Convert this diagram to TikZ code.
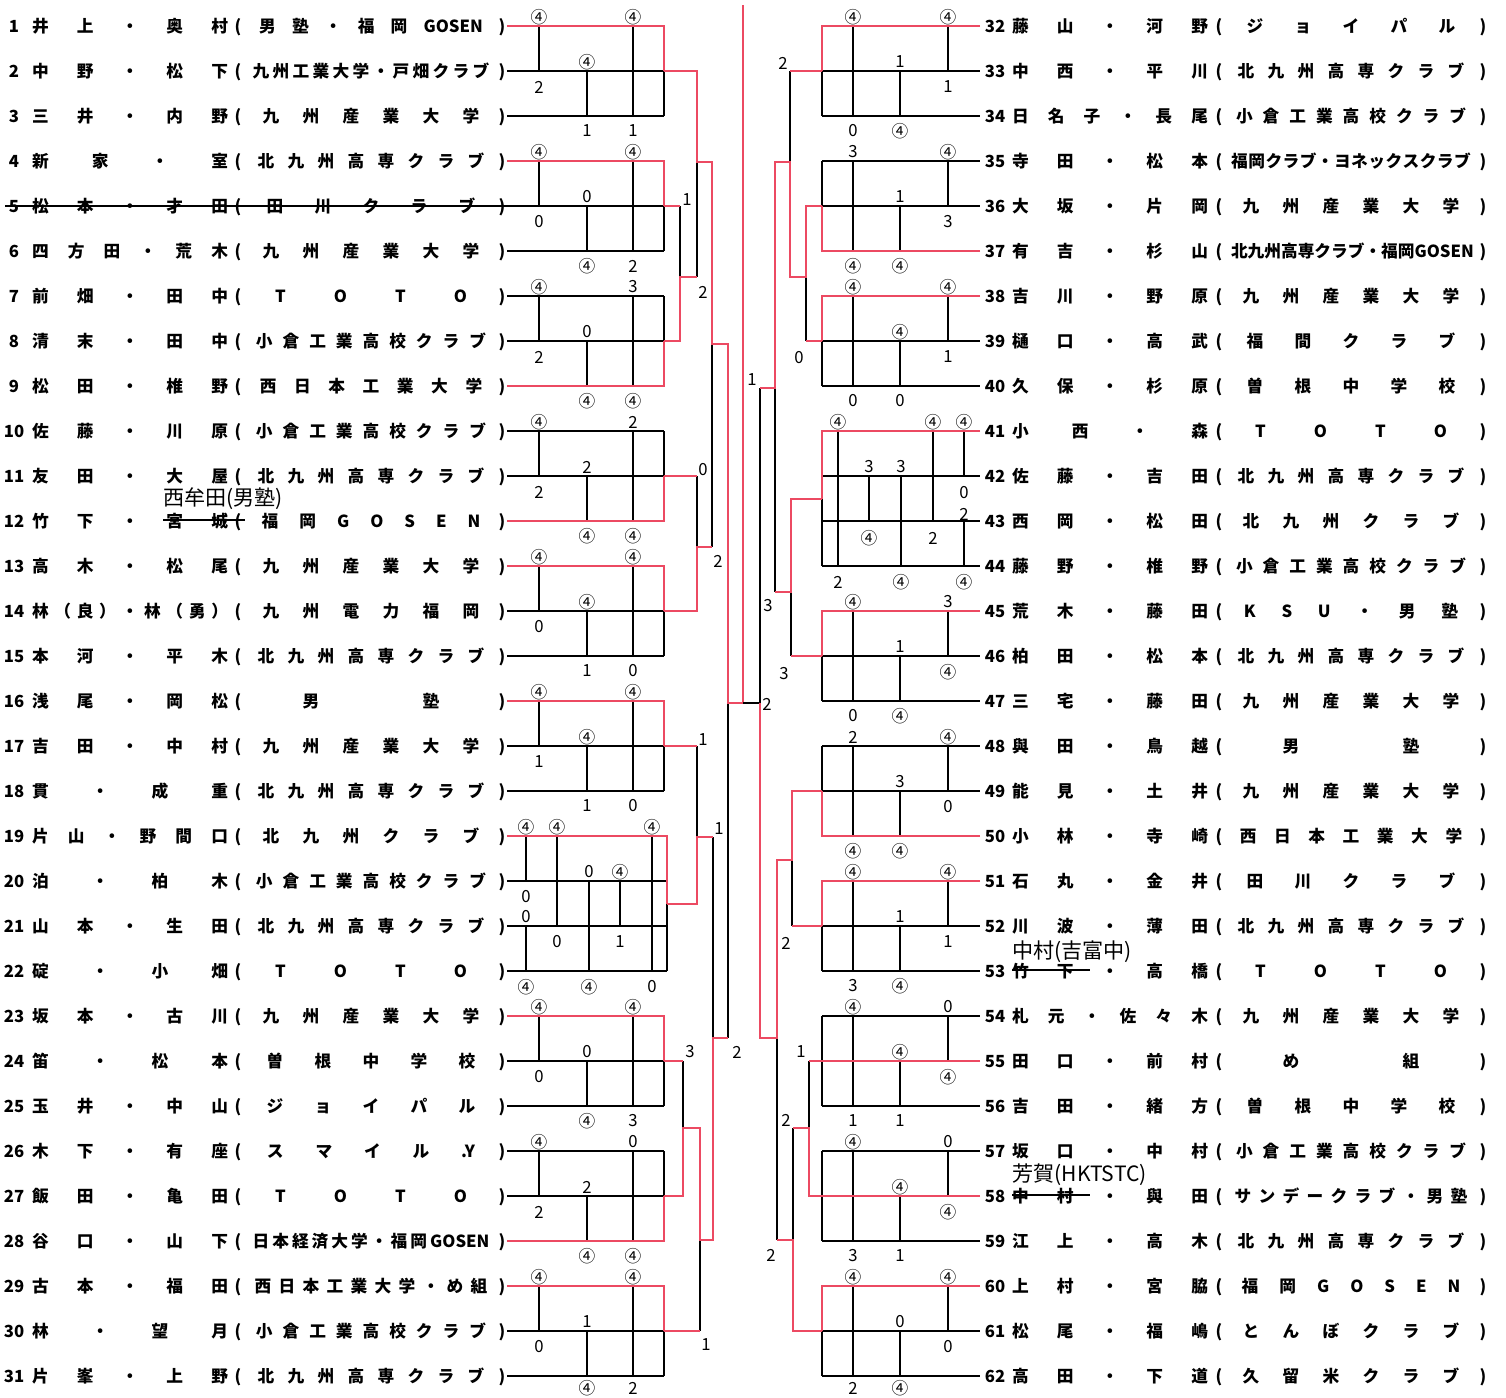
\documentclass[tikz,border=0pt]{standalone}
\usepackage{fontspec}
\usetikzlibrary{positioning}
\newfontfamily\jp{Noto Sans CJK JP}
\definecolor{winred}{HTML}{EC4A62}
\newdimen\px \px=0.02cm

\makeatletter
% justified name, spread affiliation
\newcommand\spreadname[1]{\@tfor\tchar:=#1\do{\tchar\hfil}\unskip}
\newcommand\spreadaff[1]{\@tfor\tchar:=#1\do{\hfil\tchar\hfil}}
\makeatother

% y of a row (left 1-31, right 32-62)
\newcommand\ry[1]{(26+mod(#1-1,31)*45)}

% left entry: number, names, club
\newcommand\lent[3]{%
  \pgfmathsetmacro\yy{\ry{#1}+6}
  \node[txt] (num#1) at (14,\yy) {#1};
  \node[txt] (nm#1) at (130,\yy) {\makebox[196\px][s]{\spreadname{#2}}};
  \node[txt] (op#1) at (238,\yy) {(};
  \node[txt] (af#1) at (371,\yy) {\makebox[240\px][s]{\spreadaff{#3}}};
  \node[txt] (cp#1) at (502,\yy) {)};
}
% right entry
\newcommand\rent[3]{%
  \pgfmathsetmacro\yy{\ry{#1}+6}
  \node[txt] (num#1) at (995,\yy) {#1};
  \node[txt] (nm#1) at (1110,\yy) {\makebox[196\px][s]{\spreadname{#2}}};
  \node[txt] (op#1) at (1219,\yy) {(};
  \node[txt] (af#1) at (1351,\yy) {\makebox[240\px][s]{\spreadaff{#3}}};
  \node[txt] (cp#1) at (1483,\yy) {)};
}

% left league of three: first row, winner row, six scores
\newcommand\lgrp[8]{%
  \pgfmathsetmacro\ya{\ry{#1}}
  \pgfmathsetmacro\yb{\ry{#1+1}}
  \pgfmathsetmacro\yc{\ry{#1+2}}
  \pgfmathsetmacro\yw{\ry{#2}}
  \pgfmathsetmacro\ycs{\yc+(\yc>1300 ? 12 : 15)}
  \draw[rl] (507,\ya) -- (664,\ya) (507,\yb) -- (664,\yb) (507,\yc) -- (664,\yc)
    (539,\ya) -- (539,\yb) (587,\yb) -- (587,\yc) (633,\ya) -- (633,\yc) (664,\ya) -- (664,\yc);
  \draw[win] (507,\yw) -- (664,\yw) -- (664,\yb);
  \node[sc] at (539,\ya-9) {#3};
  \node[sc] at (633,\ya-9) {#4};
  \node[sc] at (587,\yb-9) {#5};
  \node[sc] at (539,\yb+16) {#6};
  \node[sc] at (587,\ycs) {#7};
  \node[sc] at (633,\ycs) {#8};
}
% right league of three
\newcommand\rgrp[8]{%
  \pgfmathsetmacro\ya{\ry{#1}}
  \pgfmathsetmacro\yb{\ry{#1+1}}
  \pgfmathsetmacro\yc{\ry{#1+2}}
  \pgfmathsetmacro\yw{\ry{#2}}
  \pgfmathsetmacro\ycs{\yc+(\yc>1300 ? 12 : 15)}
  \draw[rl] (822,\ya) -- (980,\ya) (822,\yb) -- (980,\yb) (822,\yc) -- (980,\yc)
    (948,\ya) -- (948,\yb) (900,\yb) -- (900,\yc) (853,\ya) -- (853,\yc) (822,\ya) -- (822,\yc);
  \draw[win] (980,\yw) -- (822,\yw) -- (822,\yb);
  \node[sc] at (853,\ya-9) {#3};
  \node[sc] at (948,\ya-9) {#4};
  \node[sc] at (900,\yb-9) {#5};
  \node[sc] at (948,\yb+16) {#6};
  \node[sc] at (853,\ycs) {#7};
  \node[sc] at (900,\ycs) {#8};
}

\begin{document}
\begin{tikzpicture}[x=0.02cm, y=-0.02cm,
  txt/.style={inner sep=0pt, anchor=base, font=\jp\bfseries\fontsize{9.5}{9.5}\selectfont},
  sc/.style={inner sep=0pt, font=\jp\fontsize{9.5}{9.5}\selectfont},
  hand/.style={inner sep=0pt, font=\jp\fontsize{12}{12}\selectfont},
  rl/.style={line width=0.75pt},
  win/.style={line width=1.4pt, winred}
]
\fill[white] (0,0) rectangle (1506,1397);
\useasboundingbox (0,0) rectangle (1506,1397);

% leagues, left
\lgrp{1}{1}{④}{④}{④}{2}{1}{1}
\lgrp{4}{4}{④}{④}{0}{0}{④}{2}
\lgrp{7}{9}{④}{3}{0}{2}{④}{④}
\lgrp{10}{12}{④}{2}{2}{2}{④}{④}
\lgrp{13}{13}{④}{④}{④}{0}{1}{0}
\lgrp{16}{16}{④}{④}{④}{1}{1}{0}
\lgrp{23}{23}{④}{④}{0}{0}{④}{3}
\lgrp{26}{28}{④}{0}{2}{2}{④}{④}
\lgrp{29}{29}{④}{④}{1}{0}{④}{2}

% league of four, rows 19-22
\draw[rl] (507,836) -- (667,836) (507,881) -- (667,881) (507,926) -- (667,926) (507,971) -- (667,971)
  (526,836) -- (526,881) (526,926) -- (526,971) (557,836) -- (557,926) (589,881) -- (589,971)
  (620,881) -- (620,926) (652,836) -- (652,971) (667,836) -- (667,971);
\draw[win] (507,836) -- (667,836) -- (667,904);
\foreach \x/\y/\t in {526/827/④, 557/827/④, 652/827/④, 589/872/0, 620/872/④, 526/897/0,
  526/917/0, 557/942/0, 620/942/1, 526/987/④, 589/987/④, 652/987/0}
  \node[sc] at (\x,\y) {\t};

% leagues, right
\rgrp{32}{32}{④}{④}{1}{1}{0}{④}
\rgrp{35}{37}{3}{④}{1}{3}{④}{④}
\rgrp{38}{38}{④}{④}{④}{1}{0}{0}
\rgrp{45}{45}{④}{3}{1}{④}{0}{④}
\rgrp{48}{50}{2}{④}{3}{0}{④}{④}
\rgrp{51}{51}{④}{④}{1}{1}{3}{④}
\rgrp{54}{55}{④}{0}{④}{④}{1}{1}
\rgrp{57}{58}{④}{0}{④}{④}{3}{1}
\rgrp{60}{60}{④}{④}{0}{0}{2}{④}

% league of four, rows 41-44
\draw[rl] (822,431) -- (980,431) (822,476) -- (980,476) (822,521) -- (980,521) (822,566) -- (980,566)
  (838,431) -- (838,566) (869,476) -- (869,521) (901,476) -- (901,566) (933,431) -- (933,521)
  (964,431) -- (964,476) (964,521) -- (964,566) (822,431) -- (822,566);
\draw[win] (980,431) -- (822,431) -- (822,499);
\foreach \x/\y/\t in {838/422/④, 933/422/④, 964/422/④, 869/467/3, 901/467/3, 964/493/0,
  964/514/2, 869/538/④, 933/538/2, 838/582/2, 901/582/④, 964/582/④}
  \node[sc] at (\x,\y) {\t};

% knockout, left half
\draw[rl] (680,206) -- (680,277) (697,162) -- (697,277) (697,476) -- (697,547) (712,344) -- (712,547)
  (697,746) -- (697,837) (713,837) -- (713,1038) (683,1061) -- (683,1128) (700,1240) -- (700,1331)
  (728,703) -- (728,1038);
\draw[win] (664,206) -- (680,206);
\draw[win] (664,341) -- (680,341) -- (680,277) -- (697,277);
\draw[win] (664,71) -- (697,71) -- (697,162) -- (712,162) -- (712,344) -- (728,344) -- (728,703) -- (743,703) -- (743,5);
\draw[win] (664,476) -- (697,476);
\draw[win] (664,611) -- (697,611) -- (697,547) -- (712,547);
\draw[win] (664,746) -- (697,746);
\draw[win] (667,904) -- (697,904) -- (697,837) -- (713,837);
\draw[win] (664,1061) -- (683,1061);
\draw[win] (664,1196) -- (683,1196) -- (683,1128) -- (700,1128) -- (700,1240) -- (713,1240) -- (713,1038) -- (728,1038);
\draw[win] (664,1331) -- (700,1331);

% knockout, right half
\draw[rl] (790,71) -- (790,162) (806,277) -- (806,341) (791,592) -- (791,656) (775,388) -- (775,592)
  (792,860) -- (792,926) (809,1061) -- (809,1128) (793,1128) -- (793,1240) (777,1038) -- (777,1240)
  (760,388) -- (760,703) (743,703) -- (760,703);
\draw[win] (822,71) -- (790,71);
\draw[win] (822,206) -- (806,206) -- (806,277) -- (790,277) -- (790,162) -- (775,162) -- (775,388) -- (760,388);
\draw[win] (822,341) -- (806,341);
\draw[win] (822,499) -- (791,499) -- (791,592) -- (775,592);
\draw[win] (822,656) -- (791,656);
\draw[win] (822,791) -- (792,791) -- (792,860) -- (777,860) -- (777,1038) -- (760,1038) -- (760,703);
\draw[win] (822,926) -- (792,926);
\draw[win] (822,1061) -- (809,1061);
\draw[win] (822,1196) -- (809,1196) -- (809,1128) -- (793,1128);
\draw[win] (822,1331) -- (793,1331) -- (793,1240) -- (777,1240);

\foreach \x/\y/\t in {687/200/1, 703/292/2, 703/470/0, 718/561/2, 703/740/1, 719/829/1, 690/1052/3,
  737/1052/2, 706/1345/1, 783/63/2, 799/358/0, 752/380/1, 768/606/3, 784/674/3, 767/704/2,
  786/943/2, 801/1052/1, 786/1120/2, 771/1255/2}
  \node[sc] at (\x,\y) {\t};

% entries, left
\lent{1}{井上・奥村}{男塾・福岡{GOSEN}}
\lent{2}{中野・松下}{九州工業大学・戸畑クラブ}
\lent{3}{三井・内野}{九州産業大学}
\lent{4}{新家・室}{北九州高専クラブ}
\lent{5}{松本・才田}{田川クラブ}
\lent{6}{四方田・荒木}{九州産業大学}
\lent{7}{前畑・田中}{TOTO}
\lent{8}{清末・田中}{小倉工業高校クラブ}
\lent{9}{松田・椎野}{西日本工業大学}
\lent{10}{佐藤・川原}{小倉工業高校クラブ}
\lent{11}{友田・大屋}{北九州高専クラブ}
\lent{12}{竹下・宮城}{福岡GOSEN}
\lent{13}{高木・松尾}{九州産業大学}
\lent{14}{林（良）・林（勇）}{九州電力福岡}
\lent{15}{本河・平木}{北九州高専クラブ}
\lent{16}{浅尾・岡松}{男塾}
\lent{17}{吉田・中村}{九州産業大学}
\lent{18}{貫・成重}{北九州高専クラブ}
\lent{19}{片山・野間口}{北九州クラブ}
\lent{20}{泊・柏木}{小倉工業高校クラブ}
\lent{21}{山本・生田}{北九州高専クラブ}
\lent{22}{碇・小畑}{TOTO}
\lent{23}{坂本・古川}{九州産業大学}
\lent{24}{笛・松本}{曽根中学校}
\lent{25}{玉井・中山}{ジョイパル}
\lent{26}{木下・有座}{スマイル{.Y}}
\lent{27}{飯田・亀田}{TOTO}
\lent{28}{谷口・山下}{日本経済大学・福岡{GOSEN}}
\lent{29}{古本・福田}{西日本工業大学・め組}
\lent{30}{林・望月}{小倉工業高校クラブ}
\lent{31}{片峯・上野}{北九州高専クラブ}

% entries, right
\rent{32}{藤山・河野}{ジョイパル}
\rent{33}{中西・平川}{北九州高専クラブ}
\rent{34}{日名子・長尾}{小倉工業高校クラブ}
\rent{35}{寺田・松本}{福岡クラブ・ヨネックスクラブ}
\rent{36}{大坂・片岡}{九州産業大学}
\rent{37}{有吉・杉山}{北九州高専クラブ・福岡{GOSEN}}
\rent{38}{吉川・野原}{九州産業大学}
\rent{39}{樋口・高武}{福間クラブ}
\rent{40}{久保・杉原}{曽根中学校}
\rent{41}{小西・森}{TOTO}
\rent{42}{佐藤・吉田}{北九州高専クラブ}
\rent{43}{西岡・松田}{北九州クラブ}
\rent{44}{藤野・椎野}{小倉工業高校クラブ}
\rent{45}{荒木・藤田}{KSU・男塾}
\rent{46}{柏田・松本}{北九州高専クラブ}
\rent{47}{三宅・藤田}{九州産業大学}
\rent{48}{與田・鳥越}{男塾}
\rent{49}{能見・土井}{九州産業大学}
\rent{50}{小林・寺崎}{西日本工業大学}
\rent{51}{石丸・金井}{田川クラブ}
\rent{52}{川波・薄田}{北九州高専クラブ}
\rent{53}{竹下・高橋}{TOTO}
\rent{54}{札元・佐々木}{九州産業大学}
\rent{55}{田口・前村}{め組}
\rent{56}{吉田・緒方}{曽根中学校}
\rent{57}{坂口・中村}{小倉工業高校クラブ}
\rent{58}{中村・與田}{サンデークラブ・男塾}
\rent{59}{江上・高木}{北九州高専クラブ}
\rent{60}{上村・宮脇}{福岡GOSEN}
\rent{61}{松尾・福嶋}{とんぼクラブ}
\rent{62}{高田・下道}{久留米クラブ}

% corrections
\draw[rl] (5,206) -- (507,206);
\draw[rl] (163,520) -- (245,520);
\node[hand, anchor=west] (fix12) at (163,499) {西牟田(男塾)};
\draw[rl] (1012,970) -- (1090,970);
\node[hand, anchor=west] (fix53) at (1012,952) {中村(吉富中)};
\draw[rl] (1012,1195) -- (1090,1195);
\node[hand, anchor=west] (fix58) at (1012,1175) {芳賀(HKTSTC)};
\end{tikzpicture}
\end{document}
